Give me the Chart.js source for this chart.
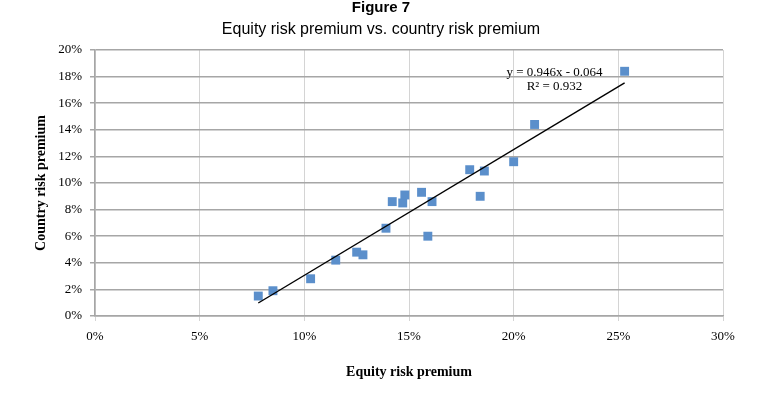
<!DOCTYPE html>
<html>
<head>
<meta charset="utf-8">
<script src="https://cdn.jsdelivr.net/npm/chart.js@4.4.1/dist/chart.umd.min.js"></script>
<style>
  html, body { margin: 0; padding: 0; background: #fff; }
  #wrap { width: 762px; height: 397px; }
</style>
</head>
<body>
<div id="wrap"><canvas id="erpChart"></canvas></div>
<script>
// Equity risk premium (x, %) and country risk premium (y, %)
const equityPremium  = [7.8, 8.5, 10.3, 11.5, 12.5, 12.8, 13.9, 14.2, 14.7, 14.8, 15.6, 15.9, 16.1, 17.9, 18.4, 18.6, 20.0, 21.0, 25.3];
const countryPremium = [1.5, 1.9, 2.8, 4.2, 4.8, 4.6, 6.6, 8.6, 8.5, 9.1, 9.3, 6.0, 8.6, 11.0, 9.0, 10.9, 11.6, 14.4, 18.4];

// linear trend (Excel): y = 0.946x - 0.064
const trendSlope = 0.946;
const trendIntercept = -0.064;
const trendLabel = ['y = 0.946x - 0.064', 'R\u00B2 = 0.932'];

const xTicks = [0, 5, 10, 15, 20, 25, 30];
const yTicks = [0, 2, 4, 6, 8, 10, 12, 14, 16, 18, 20];

const serif = '"Liberation Serif", "Times New Roman", serif';
const sans = '"Liberation Sans", Arial, sans-serif';

const points = equityPremium.map((x, i) => ({ x: x, y: countryPremium[i] }));
const xMin = Math.min(...equityPremium), xMax = Math.max(...equityPremium);
const trendPoints = [xMin, xMax].map(x => ({ x: x, y: (trendSlope * x / 100 + trendIntercept) * 100 }));

// titles above the plot and the trend equation
const textPlugin = {
    id: 'textPlugin',
    afterDraw(chart) {
        const ctx = chart.ctx;
        ctx.save();
        ctx.fillStyle = '#000';
        ctx.textAlign = 'center';
        ctx.textBaseline = 'middle';
        ctx.font = 'bold 15px ' + sans;
        ctx.fillText('Figure 7', 381, 8);
        ctx.font = '16px ' + sans;
        ctx.fillText('Equity risk premium vs. country risk premium', 381, 30);

        const xs = chart.scales.x, ys = chart.scales.y;
        ctx.font = '13px ' + serif;
        const cx = xs.getPixelForValue(21.95);
        ctx.fillText(trendLabel[0], cx, ys.getPixelForValue(18.3));
        ctx.fillText(trendLabel[1], cx, ys.getPixelForValue(17.25));
        ctx.restore();
    }
};

const ctx = document.getElementById('erpChart').getContext('2d');
const erpChart = new Chart(ctx, {
    data: {
        datasets: [{
            type: 'scatter',
            label: 'Countries',
            data: points,
            pointStyle: 'rect',
            pointRadius: 6.3,
            pointHoverRadius: 6.3,
            backgroundColor: '#5b8fcb',
            borderColor: '#5b8fcb',
            borderWidth: 0,
            order: 2
        }, {
            type: 'line',
            label: 'Trend',
            data: trendPoints,
            borderColor: '#000',
            borderWidth: 1.4,
            pointRadius: 0,
            fill: false,
            order: 1
        }]
    },
    options: {
        responsive: true,
        maintainAspectRatio: false,
        animation: false,
        layout: {
            padding: { top: 50, right: 39, left: 0, bottom: 0 }
        },
        plugins: {
            legend: { display: false },
            tooltip: { enabled: false }
        },
        scales: {
            x: {
                type: 'linear',
                min: 0,
                max: 30,
                afterBuildTicks: s => { s.ticks = xTicks.map(v => ({ value: v })); },
                afterFit: s => { s.height = 81; },
                ticks: {
                    padding: 8,
                    color: '#000',
                    font: { family: serif, size: 13 },
                    callback: v => v + '%'
                },
                grid: { color: '#d4d4d4', lineWidth: 1, tickLength: 5 },
                border: { color: '#a6a6a6', width: 1.5 },
                title: {
                    display: true,
                    text: 'Equity risk premium',
                    color: '#000',
                    font: { family: serif, size: 14, weight: 'bold' },
                    padding: { top: 0, bottom: 16 }
                }
            },
            y: {
                type: 'linear',
                min: 0,
                max: 20,
                afterBuildTicks: s => { s.ticks = yTicks.map(v => ({ value: v })); },
                afterFit: s => { s.width = 95; },
                ticks: {
                    padding: 8,
                    color: '#000',
                    font: { family: serif, size: 13 },
                    callback: v => v + '%'
                },
                grid: { color: '#a6a6a6', lineWidth: 1.5, tickLength: 5 },
                border: { color: '#a6a6a6', width: 1.5 },
                title: {
                    display: true,
                    text: 'Country risk premium',
                    color: '#000',
                    font: { family: serif, size: 14, weight: 'bold' },
                    padding: { top: 33, bottom: 0 }
                }
            }
        }
    },
    plugins: [textPlugin]
});
</script>
</body>
</html>
